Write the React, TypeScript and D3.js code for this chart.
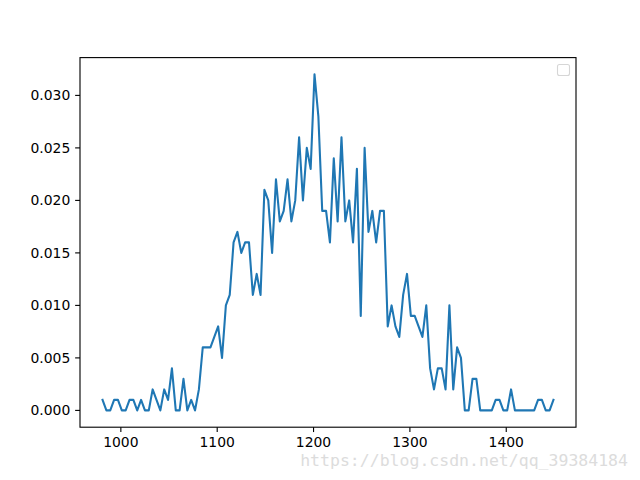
import React from "react";
import * as d3 from "d3";

// Data: bin start value and step (uniform bins), frequencies
const xStart = 981;
const xStep = 4;
const freq: number[] = [
  0.001, 0, 0, 0.001, 0.001, 0, 0, 0.001, 0.001, 0,
  0.001, 0, 0, 0.002, 0.001, 0, 0.002, 0.001, 0.004, 0,
  0, 0.003, 0, 0.001, 0, 0.002, 0.006, 0.006, 0.006, 0.007,
  0.008, 0.005, 0.01, 0.011, 0.016, 0.017, 0.015, 0.016, 0.016, 0.011,
  0.013, 0.011, 0.021, 0.02, 0.015, 0.022, 0.018, 0.019, 0.022, 0.018,
  0.02, 0.026, 0.02, 0.025, 0.023, 0.032, 0.028, 0.019, 0.019, 0.016,
  0.024, 0.018, 0.026, 0.018, 0.02, 0.016, 0.023, 0.009, 0.025, 0.017,
  0.019, 0.016, 0.019, 0.019, 0.008, 0.01, 0.008, 0.007, 0.011, 0.013,
  0.009, 0.009, 0.008, 0.007, 0.01, 0.004, 0.002, 0.004, 0.004, 0.002,
  0.01, 0.002, 0.006, 0.005, 0, 0, 0.003, 0.003, 0, 0,
  0, 0, 0.001, 0.001, 0, 0, 0.002, 0, 0, 0,
  0, 0, 0, 0.001, 0.001, 0, 0, 0.001,
];
const xTicks = [1000, 1100, 1200, 1300, 1400];
const yTicks = [0, 0.005, 0.01, 0.015, 0.02, 0.025, 0.03];
const watermark = "https://blog.csdn.net/qq_39384184";

const W = 640;
const H = 480;
const left = 80;
const right = 576;
const top = 57.6;
const bottom = 427.2;
const font = "'DejaVu Sans', sans-serif";
const fs = 13.9;
const tickLen = 4.86;

export default function App() {
  const points = freq.map((v, i) => ({ x: xStart + i * xStep, y: v }));
  const xExt = d3.extent(points, (d) => d.x) as [number, number];
  const yExt = d3.extent(points, (d) => d.y) as [number, number];
  const xm = (xExt[1] - xExt[0]) * 0.05;
  const ym = (yExt[1] - yExt[0]) * 0.05;
  const x = d3.scaleLinear().domain([xExt[0] - xm, xExt[1] + xm]).range([left, right]);
  const y = d3.scaleLinear().domain([yExt[0] - ym, yExt[1] + ym]).range([bottom, top]);
  const line = d3
    .line<{ x: number; y: number }>()
    .x((d) => x(d.x))
    .y((d) => y(d.y));

  return (
    <svg
      width={W}
      height={H}
      style={{ position: "absolute", left: 0, top: 0, background: "#fff" }}
      fontFamily={font}
    >
      <rect x={0} y={0} width={W} height={H} fill="#fff" />
      <path
        d={line(points) || ""}
        fill="none"
        stroke="#1f77b4"
        strokeWidth={2.08}
        strokeLinejoin="round"
        strokeLinecap="square"
      />
      {/* axes frame */}
      <rect
        x={left}
        y={top}
        width={right - left}
        height={bottom - top}
        fill="none"
        stroke="#000"
        strokeWidth={1.11}
      />
      {xTicks.map((t) => (
        <g key={"x" + t}>
          <line x1={x(t)} x2={x(t)} y1={bottom} y2={bottom + tickLen} stroke="#000" strokeWidth={1.11} />
          <text x={x(t)} y={bottom + tickLen + 4.86} dy="0.76em" textAnchor="middle" fontSize={fs} fill="#000">
            {t}
          </text>
        </g>
      ))}
      {yTicks.map((t) => (
        <g key={"y" + t}>
          <line x1={left - tickLen} x2={left} y1={y(t)} y2={y(t)} stroke="#000" strokeWidth={1.11} />
          <text
            x={left - tickLen - 4.86}
            y={y(t)}
            dy="0.36em"
            textAnchor="end"
            fontSize={fs}
            fill="#000"
          >
            {t.toFixed(3)}
          </text>
        </g>
      ))}
      {/* empty legend */}
      <rect
        x={557.5}
        y={64.5}
        width={12}
        height={11}
        rx={2}
        fill="#fff"
        stroke="#d6d6d6"
        strokeWidth={1.1}
      />
      <text
        x={628}
        y={466}
        textAnchor="end"
        fontFamily="'DejaVu Sans Mono', monospace"
        fontSize={16.5}
        fill="#dcdcdc"
      >
        {watermark}
      </text>
    </svg>
  );
}
